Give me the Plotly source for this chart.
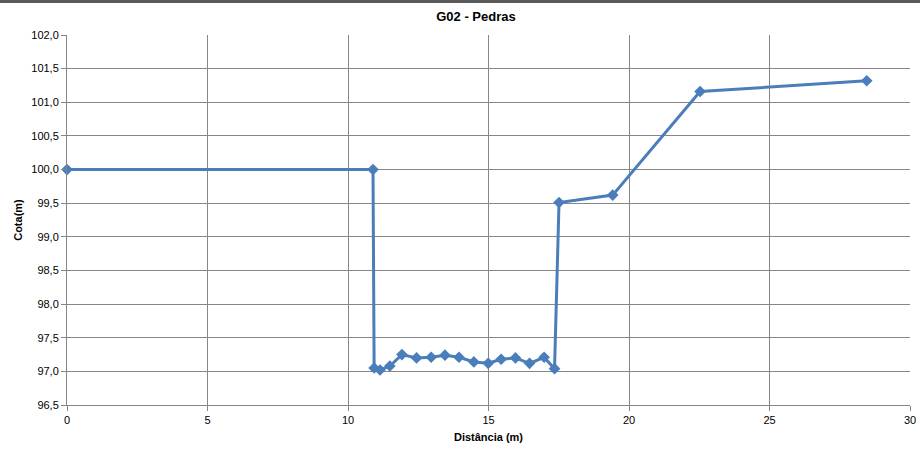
import plotly.graph_objects as go

distancia = [0.0, 10.89, 10.93, 11.14, 11.49, 11.92, 12.44, 12.96, 13.45, 13.95, 14.48, 14.99, 15.45, 15.96, 16.46, 16.98, 17.35, 17.51, 19.42, 22.53, 28.46]
cota = [100.0, 100.0, 97.05, 97.02, 97.08, 97.25, 97.20, 97.21, 97.24, 97.21, 97.14, 97.12, 97.18, 97.20, 97.12, 97.21, 97.04, 99.51, 99.62, 101.16, 101.32]

font_fam = "Liberation Sans Narrow, Arial Narrow, Liberation Sans, sans-serif"

fig = go.Figure(go.Scatter(
    x=distancia, y=cota, mode="lines+markers",
    line=dict(color="#4a7ebb", width=3),
    marker=dict(symbol="diamond", size=9, color="#4a7ebb"),
    cliponaxis=False,
))

fig.update_layout(
    width=920, height=450,
    margin=dict(l=67, r=10, t=35, b=45, autoexpand=False),
    paper_bgcolor="white", plot_bgcolor="white",
    showlegend=False,
    font=dict(family=font_fam, size=11, color="#000000"),
    title=dict(text="<b>G02 - Pedras</b>", x=476 / 920, xanchor="center", y=1 - 16 / 450, yanchor="middle",
               font=dict(size=13, family=font_fam)),
    xaxis=dict(range=[0, 30], dtick=5, showgrid=True, gridcolor="#868686", gridwidth=1,
               showline=True, linecolor="#868686", linewidth=1, ticks="outside", ticklen=5,
               tickcolor="#868686", zeroline=False, mirror=False, automargin=False,
               title=dict(text="<b>Distância (m)</b>", font=dict(size=11), standoff=8)),
    yaxis=dict(range=[96.5, 102], dtick=0.5, tickformat=".1f", showgrid=True, gridcolor="#868686",
               gridwidth=1, showline=True, linecolor="#868686", linewidth=1, ticks="outside",
               ticklen=5, tickcolor="#868686", zeroline=False, automargin=False,
               title=dict(text="<b>Cota(m)</b>", font=dict(size=11), standoff=6)),
    separators=",.",
)

fig.add_shape(type="line", xref="paper", yref="paper", x0=-0.1, x1=1.02, y0=1 + 33.5 / 370, y1=1 + 33.5 / 370,
              line=dict(color="#5a5a5a", width=3), layer="above")

fig.write_html("out.html", config={"displayModeBar": False},
               post_script="document.body.style.margin='0';document.body.style.overflow='hidden';")
